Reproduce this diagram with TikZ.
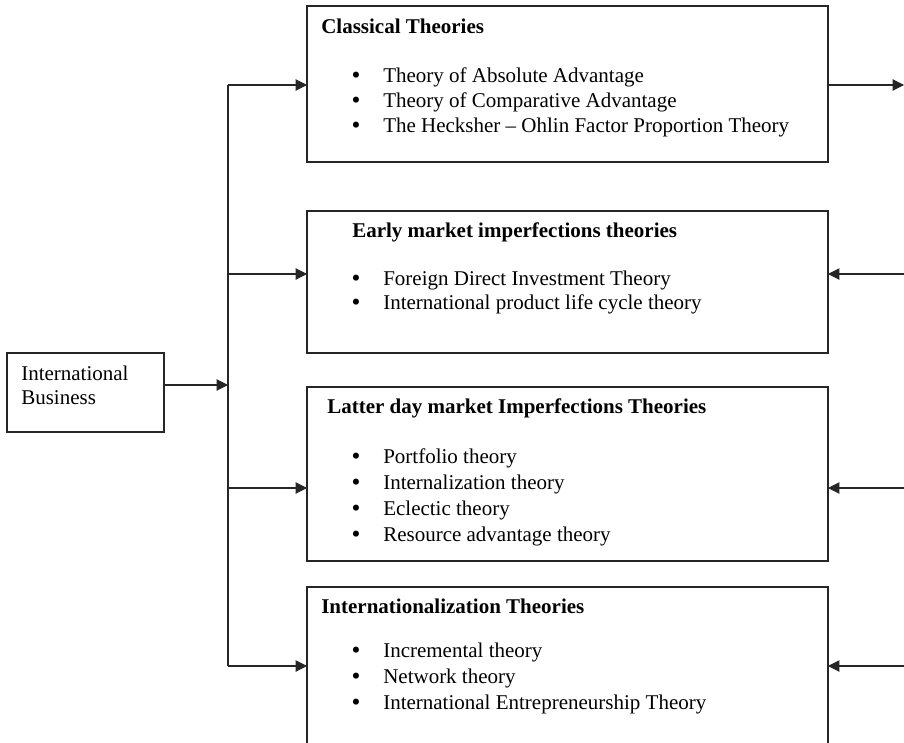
\documentclass[tikz,border=0pt]{standalone}
\usepackage{fontspec}
\setmainfont{Liberation Serif}
\usetikzlibrary{arrows.meta}
\begin{document}
\begin{tikzpicture}[x=0.75pt,y=-0.75pt,
  box/.style={draw=black!85, line width=0.8pt, anchor=north west, inner sep=0pt, outer sep=0pt},
  txt/.style={anchor=base west, inner sep=0pt, font=\fontsize{15.75}{18}\selectfont},
  ttl/.style={anchor=base west, inner sep=0pt, font=\fontsize{15.75}{18}\selectfont\bfseries},
  bul/.style={anchor=base, inner sep=0pt, font=\fontsize{19}{20}\selectfont},
  line/.style={draw=black!85, line width=0.8pt},
  arr/.style={line, -{Triangle[length=8.5pt,width=8.5pt]}}
]
\useasboundingbox (0,0) rectangle (904,743);
\clip (0,0) rectangle (904,743);

% boxes
\node[box, minimum width={157*0.75pt}, minimum height={79*0.75pt}] (ib) at (7,353) {};
\node[box, minimum width={521*0.75pt}, minimum height={156*0.75pt}] (c1) at (307,6) {};
\node[box, minimum width={521*0.75pt}, minimum height={142*0.75pt}] (c2) at (307,211) {};
\node[box, minimum width={521*0.75pt}, minimum height={174*0.75pt}] (c3) at (307,387) {};
\node[box, minimum width={521*0.75pt}, minimum height={170*0.75pt}] (c4) at (307,587) {};

% International Business
\node[txt] (ib1) at (21,380) {International};
\node[txt] (ib2) at (21,404) {Business};

% Classical
\node[ttl] (h1) at (321,33) {Classical Theories};
\node[bul] (b11) at (356,83) {•};  \node[txt] (i11) at (383,82) {Theory of Absolute Advantage};
\node[bul] (b12) at (356,108) {•}; \node[txt] (i12) at (383,107) {Theory of Comparative Advantage};
\node[bul] (b13) at (356,133) {•}; \node[txt] (i13) at (383,132) {The Hecksher – Ohlin Factor Proportion Theory};

% Early market
\node[ttl] (h2) at (352,237) {Early market imperfections theories};
\node[bul] (b21) at (356,286) {•}; \node[txt] (i21) at (383,285) {Foreign Direct Investment Theory};
\node[bul] (b22) at (356,310) {•}; \node[txt] (i22) at (383,309) {International product life cycle theory};

% Latter day
\node[ttl] (h3) at (327,413) {Latter day market Imperfections Theories};
\node[bul] (b31) at (356,464) {•}; \node[txt] (i31) at (383,463) {Portfolio theory};
\node[bul] (b32) at (356,490) {•}; \node[txt] (i32) at (383,489) {Internalization theory};
\node[bul] (b33) at (356,516) {•}; \node[txt] (i33) at (383,515) {Eclectic theory};
\node[bul] (b34) at (356,542) {•}; \node[txt] (i34) at (383,541) {Resource advantage theory};

% Internationalization
\node[ttl] (h4) at (321,613) {Internationalization Theories};
\node[bul] (b41) at (356,658) {•}; \node[txt] (i41) at (383,657) {Incremental theory};
\node[bul] (b42) at (356,684) {•}; \node[txt] (i42) at (383,683) {Network theory};
\node[bul] (b43) at (356,710) {•}; \node[txt] (i43) at (383,709) {International Entrepreneurship Theory};

% trunk coordinates
\coordinate (tib) at (228,385);
\coordinate (t1) at (228,85);
\coordinate (t2) at (228,274);
\coordinate (t3) at (228,488);
\coordinate (t4) at (228,666);
% right free ends
\coordinate (r1) at (904,85);
\coordinate (r2) at (904,274);
\coordinate (r3) at (904,488);
\coordinate (r4) at (904,666);

% connectors
\draw[arr] (tib -| ib.east) -- (tib);
\draw[line] (t1) -- (t4);
\draw[arr] (t1) -- (t1 -| c1.west);
\draw[arr] (t2) -- (t2 -| c2.west);
\draw[arr] (t3) -- (t3 -| c3.west);
\draw[arr] (t4) -- (t4 -| c4.west);
\draw[arr] (r1 -| c1.east) -- (r1);
\draw[arr] (r2) -- (r2 -| c2.east);
\draw[arr] (r3) -- (r3 -| c3.east);
\draw[arr] (r4) -- (r4 -| c4.east);
\end{tikzpicture}
\end{document}
